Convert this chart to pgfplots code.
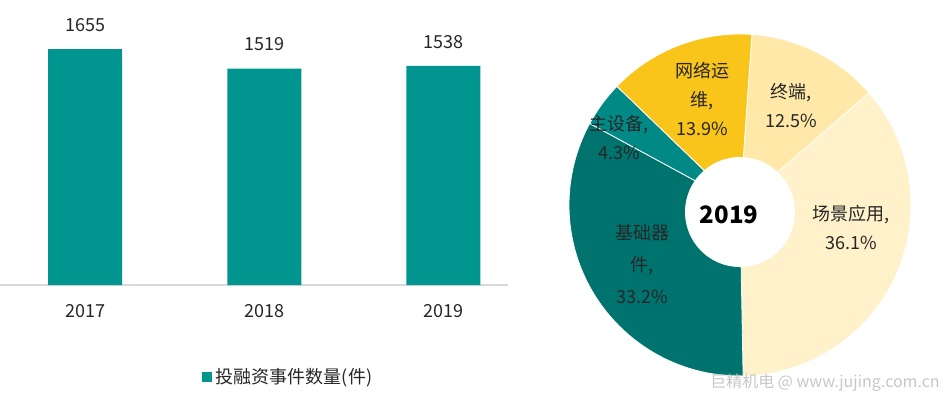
\documentclass[border=0pt]{standalone}
\usepackage{fontspec}
\setmainfont{Noto Sans CJK SC}
\usepackage{pgfplots}
\pgfplotsset{compat=1.18}
\definecolor{barc}{HTML}{00968F}
\definecolor{basec}{HTML}{00736E}
\definecolor{mainc}{HTML}{008985}
\definecolor{netc}{HTML}{F9C51B}
\definecolor{termc}{HTML}{FFE8A8}
\definecolor{scenec}{HTML}{FFF1C9}
\definecolor{axisgray}{HTML}{D9D9D9}
\definecolor{textc}{HTML}{262626}
\begin{document}
\begin{tikzpicture}
\useasboundingbox (0pt,0pt) rectangle (475pt,-199pt);
\begin{axis}[
  at={(0pt,-142.5pt)}, anchor=south west,
  width=254pt, height=142.5pt, scale only axis,
  xmin=-0.475, xmax=2.36, ymin=0, ymax=2000,
  axis y line=none, axis x line*=bottom,
  x axis line style={draw=axisgray, line width=0.8pt, -},
  xtick={0,1,2}, xticklabels={2017,2018,2019}, major tick length=0pt,
  xticklabel style={anchor=center, yshift=-13pt, font=\fontsize{9}{10}\selectfont, text=textc},
  ybar, bar width=37pt,
  nodes near coords={\pgfmathprintnumber{\pgfplotspointmeta}},
  every node near coord/.append style={anchor=center, yshift=12pt, font=\fontsize{9}{10}\selectfont, text=textc},
  /pgf/number format/1000 sep={}, /pgf/number format/assume math mode=true,
  legend style={at={(0.569,-0.323)}, anchor=center, draw=none, fill=none, font=\fontsize{9}{10}\selectfont, text=textc},
  legend image code/.code={\fill[barc] (0pt,-2.5pt) rectangle (5pt,2.5pt);},
  clip=false,
]
\addplot[fill=barc, draw=none] coordinates {(0,1655) (1,1519) (2,1538)};
\addlegendentry{投融资事件数量(件)}
\end{axis}
\begin{axis}[
  at={(370pt,-102.5pt)}, anchor=center,
  x=85.5pt, y=85.5pt,
  xmin=-1, xmax=1, ymin=-1, ymax=1,
  hide axis, clip=false,
]
\pgfplotsextra{
  \gdef\cum{0}
  \foreach \p/\col in {12.5/termc,36.1/scenec,33.2/basec,4.3/mainc,13.9/netc}{
    \pgfmathsetmacro\aS{86-3.6*\cum}
    \pgfmathsetmacro\aE{86-3.6*(\cum+\p)}
    \fill[\col, draw=white, line width=0.4pt] (axis cs:0,0) -- +(\aS:85.5pt) arc[start angle=\aS, end angle=\aE, radius=85.5pt] -- cycle;
    \pgfmathsetmacro\n{\cum+\p}
    \xdef\cum{\n}
  }
  \fill[white] (axis cs:0,-0.041) circle[radius=27.5pt];
}
\node[font=\fontsize{12}{14}\selectfont\bfseries, text=black] at (axis cs:-0.064,-0.058) {2019};
\node[align=center, font=\fontsize{9}{14.5}\selectfont, text=textc] at (axis cs:-0.222,0.620) {网络运\\维,\\13.9\%};
\node[align=center, font=\fontsize{9}{14.5}\selectfont, text=textc] at (axis cs:0.298,0.579) {终端,\\12.5\%};
\node[align=center, font=\fontsize{9}{14.5}\selectfont, text=textc] at (axis cs:-0.708,0.392) {主设备,\\4.3\%};
\node[align=center, font=\fontsize{9}{14.5}\selectfont, text=textc] at (axis cs:0.649,-0.129) {场景应用,\\36.1\%};
\node[align=center, font=\fontsize{9}{16}\selectfont, text=textc] at (axis cs:-0.573,-0.345) {基础器\\件,\\33.2\%};
\end{axis}
\node[font=\fontsize{8}{9}\selectfont, text=black!22] at (412.5pt,-191.5pt) {巨精机电 @ www.jujing.com.cn};
\end{tikzpicture}
\end{document}
